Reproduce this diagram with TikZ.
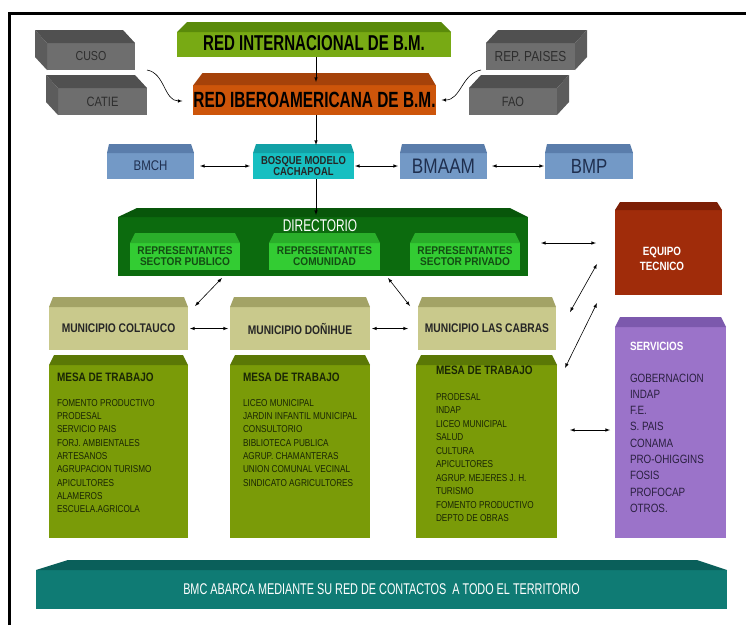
\documentclass[tikz,border=0pt]{standalone}
\usepackage{fontspec}
\setmainfont{Liberation Sans}
\newfontfamily\nar[FakeStretch=0.82]{Liberation Sans}
\newfontfamily\cnd[FakeStretch=0.7]{Liberation Sans}
\newfontfamily\wid[FakeStretch=0.9]{Liberation Sans}

\definecolor{intfront}{HTML}{78AA14}
\definecolor{inttop}{HTML}{5A8A0A}
\definecolor{iberfront}{HTML}{CD550A}
\definecolor{ibertop}{HTML}{A5420A}
\definecolor{grayfront}{HTML}{6E6E6E}
\definecolor{graytop}{HTML}{505050}
\definecolor{grayside}{HTML}{5C5C5C}
\definecolor{graytext}{HTML}{2E2E2E}
\definecolor{bluefront}{HTML}{7399C6}
\definecolor{bluetop}{HTML}{5A7DAB}
\definecolor{bluetext}{HTML}{1F2F4F}
\definecolor{bosqfront}{HTML}{17BFC1}
\definecolor{bosqtop}{HTML}{11A1A6}
\definecolor{dirfront}{HTML}{0C6B0E}
\definecolor{dirtop}{HTML}{08560A}
\definecolor{repfront}{HTML}{33CC33}
\definecolor{reptop}{HTML}{2AAE2A}
\definecolor{reptext}{HTML}{134D13}
\definecolor{eqfront}{HTML}{A02C0A}
\definecolor{eqtop}{HTML}{7C1F06}
\definecolor{servfront}{HTML}{9B73C9}
\definecolor{servtop}{HTML}{7C59AD}
\definecolor{servtext}{HTML}{2A2040}
\definecolor{munifront}{HTML}{C9C98C}
\definecolor{munitop}{HTML}{A3A366}
\definecolor{mesafront}{HTML}{7A9B08}
\definecolor{mesatop}{HTML}{5B7806}
\definecolor{mesatext}{HTML}{1A2605}
\definecolor{tealfront}{HTML}{0F7B74}
\definecolor{tealtop}{HTML}{0A5F5A}

\tikzset{
  blk/.style={inner sep=0pt, outer sep=0pt, align=center},
  lbl/.style={inner sep=0pt, outer sep=0pt, align=left, anchor=north west},
  arr/.style={->, >=latex, line width=0.6pt},
  conn/.style={<->, >=latex, line width=0.6pt},
}

% top face of a block: node, height, left cut, right cut, colour
\newcommand{\bevtop}[5]{%
  \fill[#5] (#1.north west) -- ([shift={(#3pt,#2pt)}]#1.north west)
    -- ([shift={(-#4pt,#2pt)}]#1.north east) -- (#1.north east) -- cycle;}
% grey cubes, depth to the left or to the right
\newcommand{\cubeleft}[1]{%
  \fill[graytop] (#1.north west) -- ++(-12pt,13pt) -- ([shift={(-12pt,13pt)}]#1.north east) -- (#1.north east) -- cycle;
  \fill[grayside] (#1.north west) -- ++(-12pt,13pt) -- ([shift={(-12pt,13pt)}]#1.south west) -- (#1.south west) -- cycle;}
\newcommand{\cuberight}[1]{%
  \fill[graytop] (#1.north west) -- ++(12pt,13pt) -- ([shift={(12pt,13pt)}]#1.north east) -- (#1.north east) -- cycle;
  \fill[grayside] (#1.north east) -- ++(12pt,13pt) -- ([shift={(12pt,13pt)}]#1.south east) -- (#1.south east) -- cycle;}

\begin{document}
\begin{tikzpicture}[x=1pt,y=-1pt]
\useasboundingbox (0,0) rectangle (746,625);
\draw[line width=3.2pt] (9.5,625) -- (9.5,13.5) -- (746,13.5);

\node[blk, fill=grayfront, minimum width=88pt, minimum height=27pt, text=graytext, font=\nar\fontsize{13}{15}\selectfont] (cuso) at (91,56.5) {CUSO};
\node[blk, fill=grayfront, minimum width=89pt, minimum height=27pt, text=graytext, font=\nar\fontsize{13.5}{15}\selectfont] (catie) at (102.5,101.5) {CATIE};
\node[blk, fill=grayfront, minimum width=89pt, minimum height=27pt, text=graytext, font=\nar\fontsize{14.5}{16}\selectfont] (rep) at (530.5,56.5) {REP. PAISES};
\node[blk, fill=grayfront, minimum width=88pt, minimum height=27pt, text=graytext, font=\nar\fontsize{13.5}{15}\selectfont] (fao) at (513,101.5) {FAO};
\cubeleft{cuso}
\cubeleft{catie}
\cuberight{rep}
\cuberight{fao}

\node[blk, fill=intfront, minimum width=274pt, minimum height=25pt, font=\cnd\bfseries\fontsize{21.5}{24}\selectfont] (redint) at (314,44.5) {\raisebox{3pt}{RED INTERNACIONAL DE B.M.}};
\node[blk, fill=iberfront, minimum width=241pt, minimum height=30pt, font=\cnd\bfseries\fontsize{22}{24}\selectfont] (redibero) at (314.5,100) {RED IBEROAMERICANA DE B.M.};
\bevtop{redint}{10}{10}{10}{inttop}
\bevtop{redibero}{12}{9}{7}{ibertop}

\node[blk, fill=bluefront, minimum width=87pt, minimum height=26pt, text=bluetext, font=\nar\fontsize{14}{16}\selectfont] (bmch) at (150.5,166) {BMCH};
\node[blk, fill=bosqfront, minimum width=101pt, minimum height=26pt, text=black!85, font=\nar\bfseries\fontsize{11.5}{11.5}\selectfont] (bosque) at (303.5,166) {BOSQUE MODELO\\CACHAPOAL};
\node[blk, fill=bluefront, minimum width=87pt, minimum height=26pt, text=bluetext, font=\nar\fontsize{21}{22}\selectfont] (bmaam) at (443.5,166) {BMAAM};
\node[blk, fill=bluefront, minimum width=88pt, minimum height=26pt, text=bluetext, font=\nar\fontsize{20.5}{22}\selectfont] (bmp) at (589,166) {BMP};
\bevtop{bmch}{9}{2}{3}{bluetop}
\bevtop{bosque}{9}{3}{3}{bosqtop}
\bevtop{bmaam}{9}{2}{3}{bluetop}
\bevtop{bmp}{9}{2}{3}{bluetop}

\node[blk, fill=dirfront, minimum width=410pt, minimum height=59pt] (dir) at (323,246.5) {};
\bevtop{dir}{9}{19}{18}{dirtop}
\node[blk, text=white, font=\cnd\fontsize{17}{19}\selectfont] (dirtxt) at (320,225.5) {DIRECTORIO};
\tikzset{repbox/.style={blk, fill=repfront, minimum height=27pt, text=reptext, font=\wid\bfseries\fontsize{11.2}{11}\selectfont}}
\node[repbox, minimum width=110pt] (rep1) at (185,256.5) {REPRESENTANTES\\SECTOR PUBLICO};
\node[repbox, minimum width=111pt] (rep2) at (324.5,256.5) {REPRESENTANTES\\COMUNIDAD};
\node[repbox, minimum width=110pt] (rep3) at (465,256.5) {REPRESENTANTES\\SECTOR PRIVADO};
\bevtop{rep1}{10}{5}{5}{reptop}
\bevtop{rep2}{10}{5}{5}{reptop}
\bevtop{rep3}{10}{5}{5}{reptop}

\node[blk, fill=eqfront, minimum width=107pt, minimum height=85pt] (eq) at (668.5,252.5) {};
\bevtop{eq}{8}{5}{5}{eqtop}
\node[blk, text=white, font=\nar\bfseries\fontsize{12}{15.5}\selectfont] (eqtxt) at (662,259) {EQUIPO\\TECNICO};

\tikzset{munibox/.style={blk, fill=munifront, minimum height=43pt, text=black!85, font=\nar\bfseries\fontsize{12.5}{14}\selectfont}}
\node[munibox, minimum width=139pt] (colt) at (118.5,328.5) {MUNICIPIO COLTAUCO};
\node[munibox, minimum width=140pt] (don) at (300,328.5) {MUNICIPIO DOÑIHUE};
\node[munibox, minimum width=138pt] (cab) at (487,328.5) {MUNICIPIO LAS CABRAS};
\bevtop{colt}{10}{4}{4}{munitop}
\bevtop{don}{10}{4}{4}{munitop}
\bevtop{cab}{10}{4}{4}{munitop}

\node[blk, fill=mesafront, minimum width=139pt, minimum height=173pt] (mesa1) at (118.5,451.5) {};
\node[blk, fill=mesafront, minimum width=140pt, minimum height=173pt] (mesa2) at (300,451.5) {};
\node[blk, fill=mesafront, minimum width=141pt, minimum height=173pt] (mesa3) at (486.5,451.5) {};
\bevtop{mesa1}{10}{5}{5}{mesatop}
\bevtop{mesa2}{10}{5}{5}{mesatop}
\bevtop{mesa3}{10}{5}{5}{mesatop}

\tikzset{mesahead/.style={lbl, text=mesatext, font=\nar\bfseries\fontsize{12.2}{14}\selectfont},
  mesalist/.style={lbl, text=mesatext, font=\nar\fontsize{10}{13.3}\selectfont}}
\node[mesahead] (mesa1h) at (57,372.6) {MESA DE TRABAJO};
\node[mesalist] (mesa1l) at (57,399.4) {FOMENTO PRODUCTIVO\\PRODESAL\\SERVICIO PAIS\\FORJ. AMBIENTALES\\ARTESANOS\\AGRUPACION TURISMO\\APICULTORES\\ALAMEROS\\ESCUELA.AGRICOLA};
\node[mesahead] (mesa2h) at (243,372.6) {MESA DE TRABAJO};
\node[mesalist] (mesa2l) at (243,399.4) {LICEO MUNICIPAL\\JARDIN INFANTIL MUNICIPAL\\CONSULTORIO\\BIBLIOTECA PUBLICA\\AGRUP. CHAMANTERAS\\UNION COMUNAL VECINAL\\SINDICATO AGRICULTORES};
\node[mesahead] (mesa3h) at (436,365.6) {MESA DE TRABAJO};
\node[mesalist, font=\nar\fontsize{10}{13.5}\selectfont] (mesa3l) at (436,393.4) {PRODESAL\\INDAP\\LICEO MUNICIPAL\\SALUD\\CULTURA\\APICULTORES\\AGRUP. MEJERES J. H.\\TURISMO\\FOMENTO PRODUCTIVO\\DEPTO DE OBRAS};

\node[blk, fill=servfront, minimum width=111pt, minimum height=211pt] (serv) at (670.5,432.5) {};
\bevtop{serv}{10}{5}{5}{servtop}
\node[lbl, text=white, font=\nar\bfseries\fontsize{12}{14}\selectfont] (servh) at (630,341.7) {SERVICIOS};
\node[lbl, text=servtext, font=\nar\fontsize{12}{16.3}\selectfont] (servl) at (630,373.7) {GOBERNACION\\INDAP\\F.E.\\S. PAIS\\CONAMA\\PRO-OHIGGINS\\FOSIS\\PROFOCAP\\OTROS.};

\node[blk, fill=tealfront, minimum width=691pt, minimum height=39pt, text=white, font=\cnd\fontsize{15.5}{17}\selectfont] (bmc) at (381.5,589.5) {BMC ABARCA MEDIANTE SU RED DE CONTACTOS\ \ A TODO EL TERRITORIO};
\bevtop{bmc}{10}{32}{30}{tealtop}

\draw[arr, shorten >=3pt] ([xshift=2pt]redint.south) -- ([xshift=1.5pt]redibero.north);
\draw[arr, shorten >=8pt] ([xshift=1.5pt]redibero.south) -- ([xshift=12.5pt]bosque.north);
\draw[arr, shorten >=2pt] ([xshift=12.5pt]bosque.south) -- ([xshift=-7pt]dir.north);
\draw[arr] ([xshift=12pt]cuso.south east) to[out=-10,in=180] ([shift={(-11pt,-1pt)}]redibero.west);
\draw[arr] ([xshift=-5pt]rep.south west) to[out=190,in=0] ([xshift=6pt]redibero.east);

\draw[conn, shorten <=6pt, shorten >=3pt] (bmch) -- (bosque);
\draw[conn, shorten <=1pt, shorten >=2pt] (bosque) -- (bmaam);
\draw[conn, shorten <=5pt, shorten >=1pt] (bmaam) -- (bmp);
\draw[conn] ([shift={(13pt,3.5pt)}]dir.east) -- ([shift={(-19pt,9.5pt)}]eq.west);
\draw[conn] ([shift={(104pt,-2pt)}]dir.south west) -- ([shift={(7pt,1pt)}]colt.north east);
\draw[conn] ([shift={(270pt,-2pt)}]dir.south west) -- ([shift={(-8pt,1pt)}]cab.north west);
\draw[conn, shorten <=2pt, shorten >=2pt] (colt) -- (don);
\draw[conn, shorten <=2pt, shorten >=10pt] (don) -- (cab);
\draw[conn] ([shift={(14pt,-5pt)}]cab.north east) -- ([shift={(-18pt,-11.5pt)}]eq.west);
\draw[conn] ([shift={(8pt,-3pt)}]mesa3.north east) -- ([shift={(-18pt,24pt)}]serv.north west);
\draw[conn] ([shift={(13pt,21.5pt)}]mesa3.east) -- ([shift={(-5pt,2.5pt)}]serv.west);
\end{tikzpicture}
\end{document}
